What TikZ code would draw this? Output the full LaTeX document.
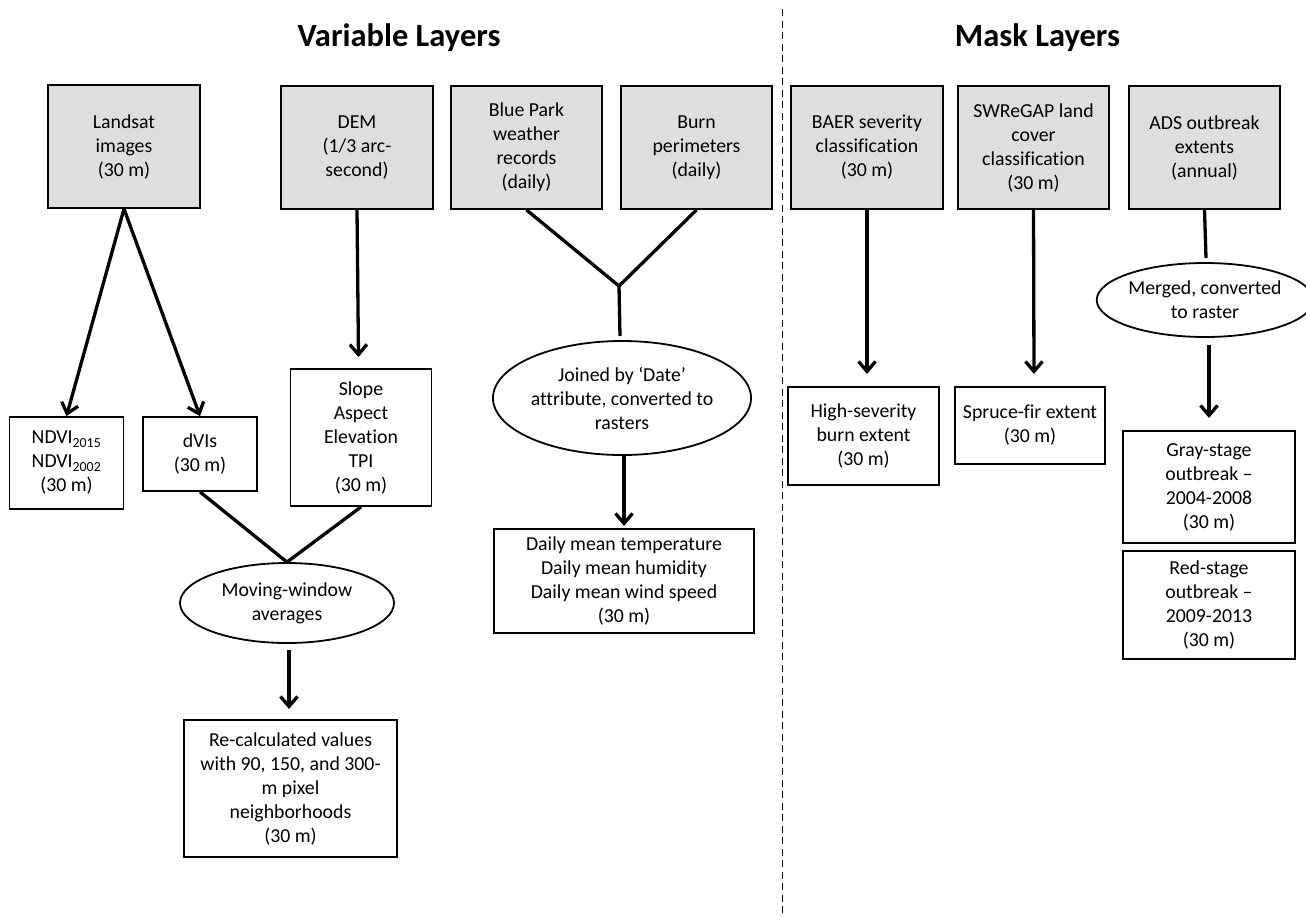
\documentclass[tikz,border=0pt]{standalone}
\usepackage{fontspec}
\setmainfont[Ligatures={TeX,NoCommon}]{Carlito}
\usetikzlibrary{arrows.meta,shapes.geometric}
\definecolor{boxgray}{RGB}{222,222,222}
\tikzset{
  every node/.style={font=\fontsize{19.8}{24}\selectfont, align=center, inner sep=0pt},
  src/.style={draw, line width=1.8pt, fill=boxgray, rectangle},
  res/.style={draw, line width=1.8pt, fill=white, rectangle},
  proc/.style={draw, line width=1.8pt, ellipse},
  ln/.style={line width=3.3pt},
  arr/.style={line width=3.3pt, -{Straight Barb[length=10pt,width=17pt]}},
  ttl/.style={font=\fontsize{32.5}{36}\selectfont\bfseries},
}
\begin{document}
\begin{tikzpicture}[x=1pt,y=-1pt]
\useasboundingbox (0,0) rectangle (1306,916);
\draw[line width=1.8pt, dash pattern=on 7pt off 4.5pt] (782.5,9) -- (782.5,916);
% titles
\node[ttl] (t1) at (399,38) {Variable Layers};
\node[ttl] (t2) at (1037.5,38) {Mask Layers};
% source boxes
\node[src, minimum width=152pt, minimum height=123pt] (landsat) at (124,146.5) {Landsat\\images\\(30 m)};
\node[src, minimum width=152pt, minimum height=123pt] (dem) at (357,147.5) {DEM\\(1/3 arc-\\second)};
\node[src, minimum width=151pt, minimum height=123pt] (bp) at (526.5,147.5) {Blue Park\\weather\\records\\(daily)};
\node[src, minimum width=151pt, minimum height=123pt] (burn) at (696.5,147.5) {Burn\\perimeters\\(daily)};
\node[src, minimum width=152pt, minimum height=123pt] (baer) at (867,147.5) {BAER severity\\classification\\(30 m)};
\node[src, minimum width=151pt, minimum height=123pt] (sw) at (1033.5,147.5) {SWReGAP land\\cover\\classification\\(30 m)};
\node[src, minimum width=151pt, minimum height=123pt] (ads) at (1204.5,147.5) {ADS outbreak\\extents\\(annual)};
% result boxes
\node[res, minimum width=114pt, minimum height=92pt] (ndvi) at (66.5,463) {NDVI\textsubscript{2015}\\NDVI\textsubscript{2002}\\(30 m)};
\node[res, minimum width=114pt, minimum height=74pt] (dvis) at (200,454) {dVIs\\(30 m)};
\node[res, minimum width=141pt, minimum height=137pt] (slope) at (361,437.5) {Slope\\Aspect\\Elevation\\TPI\\(30 m)};
\node[proc, minimum width=214pt, minimum height=80pt] (mw) at (287,603) {Moving-window\\averages};
\node[res, minimum width=213pt, minimum height=137pt] (recalc) at (290.5,788.5) {Re-calculated values\\with 90, 150, and 300-\\m pixel\\neighborhoods\\(30 m)};
\node[proc, minimum width=214pt, minimum height=114pt] (joined) at (622,398) {Joined by `Date'\\attribute, converted to\\rasters};
\node[res, minimum width=260pt, minimum height=104pt] (daily) at (624,581) {Daily mean temperature\\Daily mean humidity\\Daily mean wind speed\\(30 m)};
\node[res, minimum width=151pt, minimum height=98pt] (high) at (863.5,436) {High-severity\\burn extent\\(30 m)};
\node[res, minimum width=150pt, minimum height=77pt] (spruce) at (1030,425.5) {Spruce-fir extent\\(30 m)};
\node[proc, minimum width=182pt, minimum height=74pt] (merged) at (1205,300) {Merged, converted\\to raster};
\node[res, minimum width=172pt, minimum height=112pt] (gray) at (1209,487) {Gray-stage\\outbreak --\\2004-2008\\(30 m)};
\node[res, minimum width=172pt, minimum height=108pt] (red) at (1209,605) {Red-stage\\outbreak --\\2009-2013\\(30 m)};
% coordinates
\coordinate (demEnd) at (358.5,357);
\coordinate (mwStart) at (289,650);
\coordinate (mwEnd) at (289,709);
\coordinate (jnB) at (619,286);
\coordinate (jnBend) at (620,336);
\coordinate (joStart) at (624,455);
\coordinate (joEnd) at (624,526);
\coordinate (baerEnd) at (867,374);
\coordinate (swEnd) at (1034,374);
\coordinate (adsEnd) at (1206,258);
\coordinate (meStart) at (1209,345);
\coordinate (meEnd) at (1209,418);
% connectors
\draw[arr] (landsat.south) -- (ndvi.north);
\draw[arr] (landsat.south) -- (dvis.north);
\draw[arr] (dem.south) -- (demEnd);
\draw[ln] (dvis.south) -- (mw.north) -- (slope.south);
\draw[arr] (mwStart) -- (mwEnd);
\draw[ln] (bp.south) -- (jnB) -- (burn.south);
\draw[ln] (jnB) -- (jnBend);
\draw[arr] (joStart) -- (joEnd);
\draw[arr] (baer.south) -- (baerEnd);
\draw[arr] (sw.south) -- (swEnd);
\draw[ln] (ads.south) -- (adsEnd);
\draw[arr] (meStart) -- (meEnd);
\end{tikzpicture}
\end{document}
